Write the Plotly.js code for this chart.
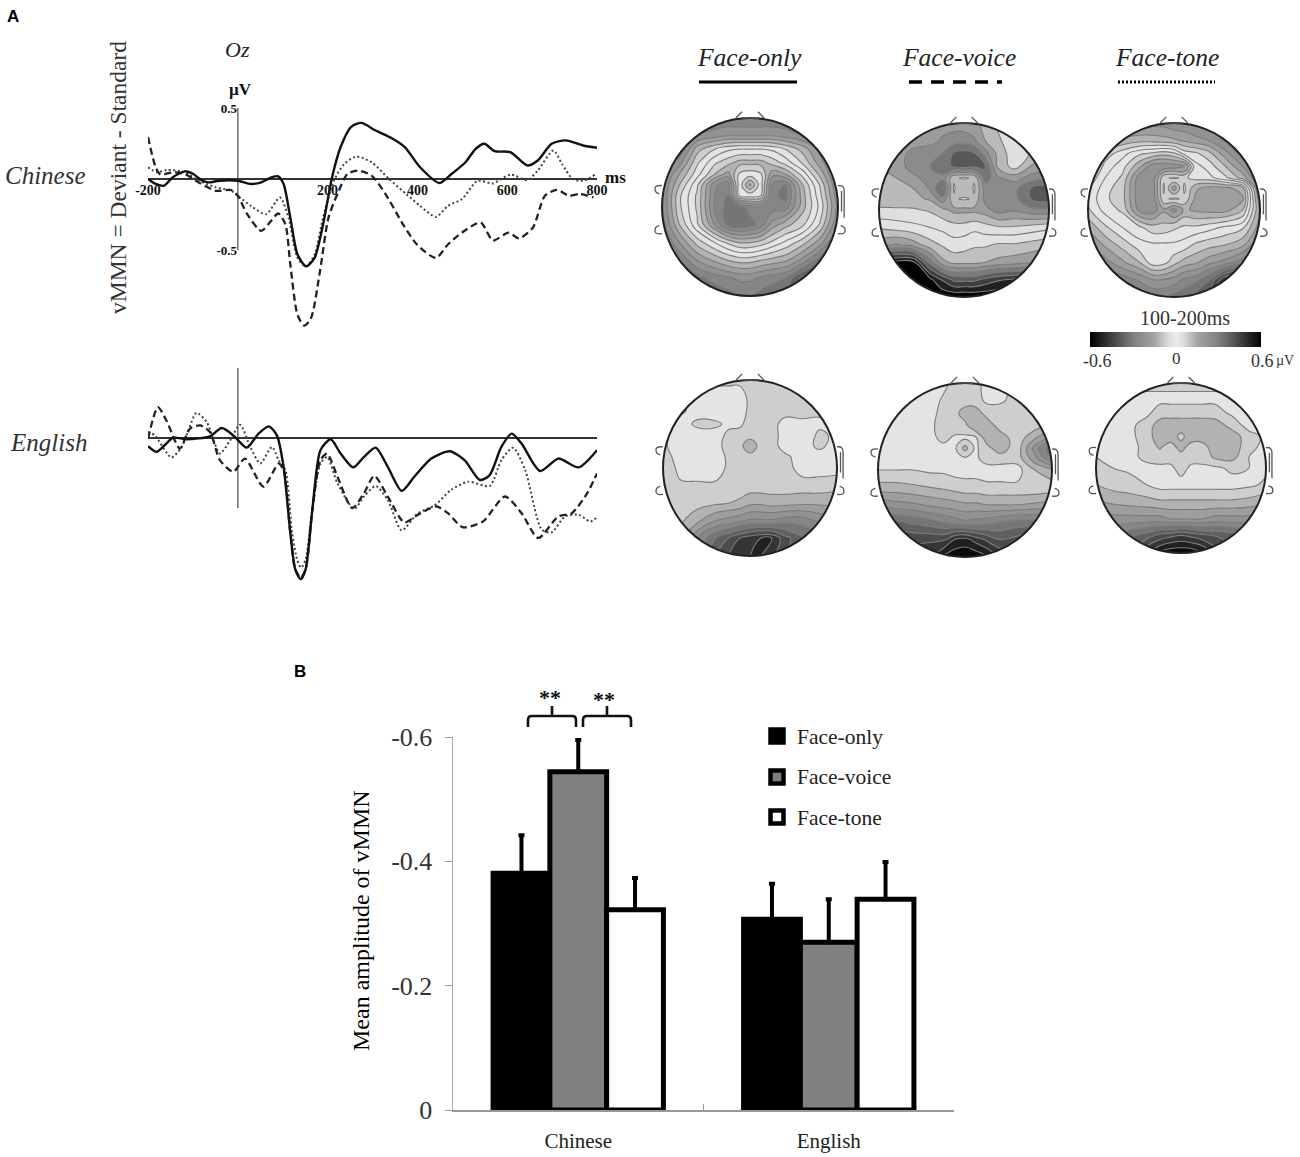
<!DOCTYPE html>
<html><head><meta charset="utf-8">
<script src="https://cdn.plot.ly/plotly-3.0.1.min.js"></script>
<style>html,body{margin:0;padding:0;background:#fff}#c{width:1300px;height:1157px}</style>
</head><body><div id="c"></div><script>
// ---------- ERP waveforms (ms, µV) ----------
const zhOnlyX=[-200,-183,-164,-145,-118,-99,-79,-64,-41,0,29,52,75,90,102,117,133,152,171,190,210,229,252,275,306,345,372,406,449,476,507,530,549,572,607,645,668,699,730,769,800];
const zhOnlyY=[0,-.035,-.047,.012,.054,.035,-.012,-.024,-.012,-.012,-.035,-.024,.012,.019,-.035,-.272,-.532,-.615,-.556,-.319,.012,.225,.366,.395,.343,.284,.225,.083,-.028,.035,.118,.213,.248,.196,.189,.095,.130,.248,.272,.236,.220];
const zhVoiceX=[-200,-183,-172,-145,-118,-87,-49,-14,0,21,52,71,90,106,117,133,148,163,183,202,225,244,268,298,329,368,399,441,468,499,541,568,603,626,657,684,711,738,761,792];
const zhVoiceY=[.296,.083,.031,.047,.035,-.024,-.083,-.078,-.118,-.248,-.366,-.307,-.243,-.319,-.603,-.957,-1.033,-.981,-.650,-.272,-.083,.035,.059,.024,-.106,-.319,-.461,-.556,-.461,-.378,-.307,-.433,-.378,-.418,-.343,-.118,-.076,-.118,-.106,-.130];
const zhToneX=[-200,-180,-157,-118,-87,-49,-14,0,29,63,94,113,133,152,171,190,214,237,264,298,337,375,406,441,468,499,534,568,607,645,668,703,722,746,769,796];
const zhToneY=[.083,.047,.064,.047,-.012,-.059,-.083,-.118,-.189,-.248,-.130,-.272,-.556,-.615,-.532,-.272,-.012,.106,.158,.118,0,-.106,-.189,-.267,-.189,-.142,-.012,-.031,.031,-.007,.059,.201,.106,0,-.012,.031];
const enOnlyX=[-200,-181,-163,-144,-114,-62,-36,-10,20,46,69,87,102,117,128,140,151,166,184,207,229,257,281,307,334,365,393,431,472,505,539,561,587,610,632,673,714,759,800];
const enOnlyY=[-.059,-.099,-.052,.002,-.009,.012,.071,.019,-.069,.031,.083,.019,-.206,-.678,-.939,-1.009,-.939,-.513,-.087,-.009,-.111,-.210,-.135,-.069,-.206,-.378,-.277,-.147,-.095,-.158,-.300,-.265,-.064,.031,-.040,-.236,-.147,-.210,-.087];
const enVoiceX=[-200,-178,-159,-129,-107,-84,-62,-40,-10,16,57,91,102,117,128,140,151,166,184,199,222,255,281,304,334,371,401,442,468,501,546,595,632,669,714,744,778,800];
const enVoiceY=[-.005,.220,.125,-.076,.066,.090,.043,-.158,-.241,-.147,-.348,-.182,-.229,-.678,-.939,-.998,-.939,-.513,-.158,-.111,-.277,-.501,-.395,-.270,-.418,-.603,-.548,-.489,-.537,-.638,-.596,-.418,-.537,-.714,-.560,-.537,-.395,-.253];
const enToneX=[-200,-185,-148,-125,-110,-92,-69,-40,-17,5,28,50,76,91,106,121,132,141,151,166,184,199,222,259,281,307,334,365,401,438,475,513,561,587,613,640,677,699,729,759,785,800];
const enToneY=[.043,.019,-.139,-.064,.054,.180,.113,-.111,-.017,.095,-.064,-.182,-.064,-.158,-.229,-.678,-.868,-.927,-.868,-.513,-.182,-.135,-.324,-.506,-.418,-.343,-.442,-.660,-.537,-.482,-.371,-.312,-.343,-.158,-.069,-.229,-.655,-.674,-.560,-.548,-.596,-.565];
const erpTickVals=[-200,200,400,600,800];
const erpTickText=['-200','200','400','600','800'];

// ---------- Scalp maps: amplitude in 0.01 µV, rows top of head to bottom ----------
const mapXs=[-1,-.8,-.6,-.4,-.25,-.12,0,.12,.25,.4,.6,.8,1];
const mapYs=[1,.8,.65,.5,.37,.25,.13,0,-.2,-.4,-.6,-.8,-1];
const zhOnlyMap=[
[-30,-30,-30,-30,-30,-30,-30,-30,-30,-30,-30,-30,-30],
[-28,-28,-25,-22,-20,-20,-20,-20,-20,-22,-25,-28,-30],
[-28,-30,-12,-5,-1,0,0,0,-1,-5,-12,-22,-28],
[-28,-22,-6,4,8,12,12,12,8,3,-6,-18,-28],
[-28,-15,-2,10,17,4,2,4,18,15,3,-12,-28],
[-26,-10,4,24,28,2,16,2,26,30,10,-6,-26],
[-26,-6,6,25,30,4,2,4,28,32,12,-4,-24],
[-26,-6,6,26,32,32,28,26,28,28,12,-2,-22],
[-28,-10,4,20,32,34,32,28,18,12,6,-6,-26],
[-32,-20,-8,0,6,10,10,8,4,-1,-8,-18,-34],
[-38,-30,-20,-14,-10,-8,-8,-10,-12,-14,-22,-34,-46],
[-42,-38,-32,-28,-26,-24,-24,-26,-28,-30,-42,-52,-54],
[-42,-40,-36,-34,-32,-30,-30,-32,-34,-36,-46,-56,-56]];
const zhVoiceMap=[
[14,14,14,16,18,18,18,16,12,6,4,6,8],
[16,16,16,18,22,24,24,22,14,8,3,8,14],
[16,16,24,26,28,36,38,36,24,12,2,8,16],
[14,15,26,28,32,36,38,36,36,12,4,15,18],
[12,14,18,26,26,8,6,8,32,22,18,24,26],
[12,13,14,22,36,6,14,6,24,24,26,36,38],
[10,11,12,15,26,8,6,8,24,24,26,36,38],
[6,6,6,8,12,16,16,16,18,24,22,26,26],
[-6,-4,-2,0,2,4,4,2,4,6,6,4,2],
[-18,-22,-18,-10,-6,-3,-4,-6,-6,-8,-8,-10,-12],
[-52,-58,-58,-32,-16,-12,-12,-12,-14,-16,-18,-20,-24],
[-62,-62,-62,-58,-48,-40,-40,-40,-44,-48,-50,-52,-52],
[-62,-62,-62,-62,-62,-62,-62,-62,-62,-62,-62,-62,-62]];
const zhToneMap=[
[-22,-22,-22,-22,-22,-22,-24,-24,-26,-26,-30,-32,-32],
[-22,-18,-14,-12,-12,-13,-14,-16,-18,-20,-26,-32,-34],
[-22,-8,-2,4,6,8,6,-2,-4,-8,-18,-28,-34],
[-16,-3,3,14,23,24,23,22,2,-2,-10,-20,-32],
[-10,0,6,23,24,6,4,6,3,2,-4,-12,-28],
[-6,3,8,24,24,4,18,4,14,17,17,12,-24],
[-4,4,8,24,24,6,4,6,16,17,17,16,-20],
[-6,2,6,22,23,16,22,14,16,17,17,10,-16],
[-14,-6,0,4,8,8,6,4,4,2,-1,-4,-18],
[-22,-14,-8,-2,-1,-1,-1,-2,-6,-8,-10,-14,-26],
[-28,-22,-16,-10,-2,-3,-8,-12,-14,-18,-22,-28,-38],
[-36,-32,-28,-24,-20,-20,-22,-26,-28,-34,-50,-56,-52],
[-38,-36,-34,-32,-30,-30,-32,-34,-38,-42,-54,-58,-56]];
const enOnlyMap=[
[-6,-6,-6,-6,-6,-6,-6,-6,-6,-6,-6,-6,-6],
[-6,-6,-3,-3,-3,-3,-6,-6,-7,-7,-8,-6,-6],
[-6,-6,-3,-2,-2,-3,-6,-7,-7,-7,-8,-6,-6],
[-6,-3,-6,-6,-4,-4,-7,-7,-7,-3,-3,-4,-6],
[-6,-3,-3,-3,-6,-7,-8,-8,-7,-3,-2,-6,-4],
[-6,-2,-2,-3,-7,-8,-14,-8,-7,-3,-3,-6,-3],
[-8,-2,-2,-2,-6,-8,-8,-8,-7,-6,-3,-3,-3],
[-10,-3,-2,-2,-6,-7,-7,-7,-7,-7,-3,-3,-3],
[-6,-6,-6,-6,-6,-7,-7,-7,-7,-7,-7,-7,-8],
[-7,-7,-8,-9,-10,-11,-14,-14,-13,-13,-14,-14,-14],
[-7,-9,-14,-20,-22,-24,-26,-26,-26,-28,-28,-24,-20],
[-8,-12,-25,-35,-40,-45,-48,-50,-50,-42,-36,-32,-28],
[-8,-12,-25,-40,-45,-48,-50,-50,-46,-40,-34,-30,-28]];
const enVoiceMap=[
[-3,-3,-3,-3,-3,-7,-7,-7,-3,-3,-7,-7,-7],
[-2,-2,-2,-2,-6,-7,-7,-7,-4,-4,-7,-7,-7],
[-2,-2,-2,-3,-7,-8,-13,-13,-8,-8,-7,-7,-8],
[-2,-2,-2,-4,-7,-8,-8,-14,-14,-8,-7,-8,-12],
[-2,-2,-2,-3,-7,-4,-4,-4,-13,-13,-7,-14,-22],
[-2,-2,-2,-2,-3,-4,-12,-4,-8,-13,-7,-22,-34],
[-3,-3,-3,-3,-3,-4,-4,-4,-7,-7,-7,-18,-30],
[-5,-5,-5,-4,-4,-3,-3,-3,-3,-3,-3,-10,-14],
[-12,-12,-11,-10,-9,-8,-7,-7,-6,-6,-6,-6,-7],
[-24,-22,-21,-19,-18,-17,-16,-16,-15,-15,-15,-16,-17],
[-36,-36,-34,-32,-30,-28,-26,-27,-28,-30,-32,-32,-34],
[-44,-44,-44,-44,-44,-50,-52,-48,-44,-40,-42,-44,-44],
[-48,-48,-48,-50,-56,-59,-59,-59,-56,-50,-46,-46,-46]];
const enToneMap=[
[-6,-6,-6,-6,-6,-6,-6,-6,-6,-6,-6,-6,-6],
[-4,-4,-4,-4,-4,-4,-4,-4,-4,-4,-4,-4,-4],
[-4,-4,-4,-4,-7,-7,-7,-7,-7,-7,-4,-3,-4],
[-4,-4,-4,-7,-13,-14,-14,-14,-14,-13,-8,-3,-4],
[-4,-4,-4,-7,-14,-14,-8,-14,-14,-14,-13,-7,-4],
[-4,-4,-4,-6,-11,-7,-13,-7,-7,-14,-14,-6,-4],
[-5,-4,-4,-6,-7,-7,-7,-7,-7,-11,-12,-5,-4],
[-6,-5,-4,-4,-4,-4,-7,-4,-4,-4,-6,-5,-4],
[-10,-8,-7,-5,-3,-3,-3,-3,-3,-3,-3,-4,-6],
[-16,-14,-13,-12,-11,-11,-11,-11,-11,-11,-11,-12,-14],
[-22,-22,-22,-22,-22,-20,-20,-20,-20,-22,-22,-22,-24],
[-30,-30,-34,-38,-42,-44,-46,-44,-42,-40,-38,-36,-36],
[-34,-34,-40,-50,-56,-59,-59,-59,-56,-48,-42,-38,-38]];
const scaleValues=[-60,-50,-40,-30,-20,-10,0,10,20,30,40,50,60];

// ---------- Mean amplitude bars ----------
const languages=['Chinese','English'];
const faceOnly=[-.381,-.307];
const faceVoice=[-.544,-.270];
const faceTone=[-.322,-.339];
const faceOnlyErr=[.061,.057];
const faceVoiceErr=[.051,.069];
const faceToneErr=[.051,.060];
const conditions=['Face-only','Face-voice','Face-tone'];
const amplitudeTicks=[0,-.2,-.4,-.6];
const amplitudeLabels=['0','-0.2','-0.4','-0.6'];

// ---------- layout helpers ----------
const W=1300,H=1157;
const px=x=>x/W, py=y=>1-y/H;
const SERIF='"Liberation Serif",serif';
const grayScale=[[0,'#000000'],[.125,'#404040'],[.25,'#808080'],[.375,'#a4a4a4'],[.4167,'#c0c0c0'],[.4583,'#dcdcdc'],[.5,'#ececec'],
  [.5417,'#dcdcdc'],[.5833,'#c0c0c0'],[.625,'#a4a4a4'],[.75,'#808080'],[.875,'#404040'],[1,'#000000']];
const layout={width:W,height:H,margin:{l:0,r:0,t:0,b:0},paper_bgcolor:'#fff',plot_bgcolor:'rgba(0,0,0,0)',showlegend:false,
  shapes:[],annotations:[],bargap:.32,bargroupgap:0,barmode:'group',hovermode:false};
const data=[];
const sOnly={color:'#111',width:2.4},sVoice={color:'#222',width:2.3,dash:'7px,4px'},sTone={color:'#444',width:2,dash:'2px,2.5px'};
function erp(ax,xs,ys,style){data.push({type:'scatter',mode:'lines',x:xs,y:ys,xaxis:'x'+ax,yaxis:'y'+ax,
  line:Object.assign({shape:'spline',smoothing:.7},style)});}
function erpAxes(n,top,bot,base,perUnit,showTicks){
  const a=n===1?'':n;
  layout['xaxis'+a]={domain:[px(148),px(597)],range:[-200,800],anchor:'free',position:py(base),showgrid:false,zeroline:false,showline:false,ticks:'',
    tickmode:'array',tickvals:showTicks?erpTickVals:[],ticktext:showTicks?erpTickText:[],ticklabelstandoff:1,
    tickfont:{family:SERIF,size:14,color:'#111',weight:'bold'}};
  layout['yaxis'+a]={domain:[py(bot),py(top)],range:[(base-bot)/perUnit,(base-top)/perUnit],anchor:'free',position:px(237),showgrid:false,zeroline:true,zerolinecolor:'#333',zerolinewidth:1.6,
    showline:false,ticks:'',tickmode:'array',tickvals:showTicks?[-.5,.5]:[],ticktext:showTicks?['-0.5','0.5']:[],
    tickfont:{family:SERIF,size:13,color:'#111',weight:'bold'}};
  layout.shapes.push({type:'line',xref:'x'+a,yref:'y'+a,x0:0,x1:0,y0:-.5,y1:.5,line:{color:'#777',width:1.6},layer:'below'});
}
erpAxes(1,90,340,179,142,true);
erpAxes(2,350,600,438,140,false);
erp('',zhToneX,zhToneY,sTone);erp('',zhVoiceX,zhVoiceY,sVoice);erp('',zhOnlyX,zhOnlyY,sOnly);
erp(2,enToneX,enToneY,sTone);erp(2,enVoiceX,enVoiceY,sVoice);erp(2,enOnlyX,enOnlyY,sOnly);

const k=.5523, R=1.15;
const maskPath=`M ${-R} ${-R} L ${R} ${-R} L ${R} ${R} L ${-R} ${R} Z M -1 0 C -1 ${k} ${-k} 1 0 1 C ${k} 1 1 ${k} 1 0 C 1 ${-k} ${k} -1 0 -1 C ${-k} -1 -1 ${-k} -1 0 Z`;
const earPaths=['M -.16 1.0 L -.09 1.07','M .16 1.0 L .09 1.07','M -.1 1.0 L .1 1.0',
 'M -1 .24 Q -1.09 .25 -1.08 .2 Q -1.08 .16 -1.03 .15','M -1 -.3 Q -1.09 -.31 -1.08 -.26 Q -1.08 -.22 -1.03 -.21',
 'M 1 .24 Q 1.07 .25 1.07 .18 L 1.07 -.12 M 1.04 .18 L 1.04 -.05 M 1 -.3 Q 1.09 -.31 1.08 -.26 Q 1.08 -.22 1.03 -.21'];
function topo(n,grid,cx,cy,rx,ry,start,step){
  data.push({type:'contour',x:mapXs,y:mapYs.slice().reverse(),z:grid.slice().reverse(),xaxis:'x'+n,yaxis:'y'+n,
    colorscale:grayScale,zmin:-60,zmax:60,showscale:false,autocontour:false,
    contours:{start:start,end:-start,size:step,coloring:'fill',showlines:true},line:{color:'#7c7c7c',width:1.1,smoothing:1.2}});
  layout['xaxis'+n]={domain:[px(cx-R*rx),px(cx+R*rx)],range:[-R,R],visible:false,anchor:'y'+n,fixedrange:true};
  layout['yaxis'+n]={domain:[py(cy+R*ry),py(cy-R*ry)],range:[-R,R],visible:false,anchor:'x'+n,fixedrange:true};
  const ref={xref:'x'+n,yref:'y'+n,layer:'above'};
  layout.shapes.push(Object.assign({type:'path',path:maskPath,fillcolor:'#fff',fillrule:'evenodd',line:{width:0}},ref));
  layout.shapes.push(Object.assign({type:'circle',x0:-1,x1:1,y0:-1,y1:1,line:{color:'#222',width:2}},ref));
  earPaths.forEach(p=>layout.shapes.push(Object.assign({type:'path',path:p,line:{color:'#555',width:1.3}},ref)));
}
topo(3,zhOnlyMap,750,207,88,89,-60,5);
topo(4,zhVoiceMap,964,210,85,87,-63,7);
topo(5,zhToneMap,1174,210,86,87,-60,5);
topo(6,enOnlyMap,750,468,87,88,-60,5);
topo(7,enVoiceMap,965,470,87,87,-60,5);
topo(8,enToneMap,1181,468,85,85,-60,5);

// grey scale strip
data.push({type:'heatmap',x:scaleValues,y:[0,1],z:[scaleValues,scaleValues],xaxis:'x9',yaxis:'y9',colorscale:grayScale,zmin:-60,zmax:60,showscale:false,zsmooth:'best'});
layout.xaxis9={domain:[px(1090),px(1261)],range:[-60,60],visible:false,anchor:'y9'};
layout.yaxis9={domain:[py(347),py(332)],range:[0,1],visible:false,anchor:'x9'};

// bars
const barStyle=c=>({color:c,line:{color:'#000',width:5}});
const errStyle=e=>({type:'data',symmetric:false,array:[0,0],arrayminus:e,color:'#000',thickness:4,width:3});
[[faceOnly,faceOnlyErr,'#000'],[faceVoice,faceVoiceErr,'#808080'],[faceTone,faceToneErr,'#fff']].forEach((b,i)=>{
  data.push({type:'bar',name:conditions[i],x:languages,y:b[0],xaxis:'x10',yaxis:'y10',marker:barStyle(b[2]),error_y:errStyle(b[1]),cliponaxis:false});
});
layout.xaxis10={domain:[px(453),px(954)],anchor:'y10',type:'category',range:[-.5,1.5],showgrid:false,zeroline:false,showline:true,linecolor:'#999',linewidth:1.5,
  ticks:'inside',ticklen:6,tickcolor:'#999',tickson:'boundaries',ticklabelstandoff:11,tickfont:{family:SERIF,size:21,color:'#222'}};
layout.yaxis10={domain:[py(1110),py(737)],anchor:'x10',range:[0,-.6],showgrid:false,zeroline:false,showline:true,linecolor:'#aaa',linewidth:1.5,
  ticks:'outside',ticklen:7,tickcolor:'#999',tickmode:'array',tickvals:amplitudeTicks,ticktext:amplitudeLabels,ticklabelstandoff:7,tickfont:{family:SERIF,size:26,color:'#333'}};

// pixel-space overlay for the hand-drawn key
const legendX=[777,777,777], legendY=[736,777,817];
data.push({type:'scatter',mode:'markers',x:legendX,y:legendY,xaxis:'x11',yaxis:'y11',hoverinfo:'skip',
  marker:{symbol:'square',size:13,color:['#000','#808080','#fff'],line:{color:'#000',width:4.5}}});
layout.xaxis11={domain:[0,1],range:[0,W],visible:false,anchor:'y11',fixedrange:true};
layout.yaxis11={domain:[0,1],range:[H,0],visible:false,anchor:'x11',fixedrange:true};

function T(text,x,y,size,o){o=o||{};layout.annotations.push({text,x:px(x),y:py(y),xref:'paper',yref:'paper',xanchor:o.anchor||'center',yanchor:'middle',showarrow:false,
  textangle:o.angle||0,font:{family:o.family||SERIF,size,color:o.color||'#222',style:o.italic?'italic':'normal',weight:o.bold?'bold':'normal'}});}
T('A',13,17,17,{family:'"Liberation Sans",sans-serif',bold:1,color:'#000'});
T('B',300,671,17,{family:'"Liberation Sans",sans-serif',bold:1,color:'#000'});
T('Oz',237,50,22,{italic:1});
T('µV',240,90,17,{bold:1,color:'#111'});
T('ms',615,177,17,{bold:1,color:'#111'});
T('vMMN = Deviant - Standard',118,178,23.5,{angle:-90,color:'#333'});
T('Chinese',45,176,25,{italic:1,color:'#333'});
T('English',48,442,25,{italic:1,color:'#333'});
T('Face-only',749,57,25.5,{italic:1});
T('Face-voice',959,57,25.5,{italic:1});
T('Face-tone',1167,57,25.5,{italic:1});
T('100-200ms',1185,318,20,{color:'#333'});
T('-0.6',1097,361,18,{color:'#333'});
T('0',1176,359,17,{color:'#333'});
T('0.6',1262,361,18,{color:'#333'});
T('µV',1285,361,14,{color:'#333'});
T('Mean amplitude of vMMN',361,921,24,{angle:-90,color:'#000'});
T('Face-only',795,737,21.5,{anchor:'left'});
T('Face-voice',795,777,21.5,{anchor:'left'});
T('Face-tone',795,818,21.5,{anchor:'left'});
T('**',550,697,22,{color:'#111',bold:1});
T('**',604,699,22,{color:'#111',bold:1});

[[699,797,null,3],[909,1002,'13px,9px',3.5],[1118,1215,'2px,2px',3]].forEach(s=>{
  layout.shapes.push({type:'line',xref:'paper',yref:'paper',x0:px(s[0]),x1:px(s[1]),y0:py(82),y1:py(82),line:{color:'#000',width:s[3],dash:s[2]||'solid'}});
});
function brace(x0,x1){const xm=(x0+x1)/2,f=x=>px(x).toFixed(5),g=y=>py(y).toFixed(5);
  layout.shapes.push({type:'path',xref:'paper',yref:'paper',line:{color:'#111',width:2.6},
    path:`M ${f(x0)} ${g(727)} L ${f(x0)} ${g(720)} Q ${f(x0)} ${g(716)} ${f(x0+4)} ${g(716)} L ${f(x1-4)} ${g(716)} Q ${f(x1)} ${g(716)} ${f(x1)} ${g(720)} L ${f(x1)} ${g(727)} M ${f(xm)} ${g(716)} L ${f(xm)} ${g(706)}`});}
brace(528,576);brace(583,631);

Plotly.newPlot('c',data,layout,{displayModeBar:false,staticPlot:true});
</script></body></html>
